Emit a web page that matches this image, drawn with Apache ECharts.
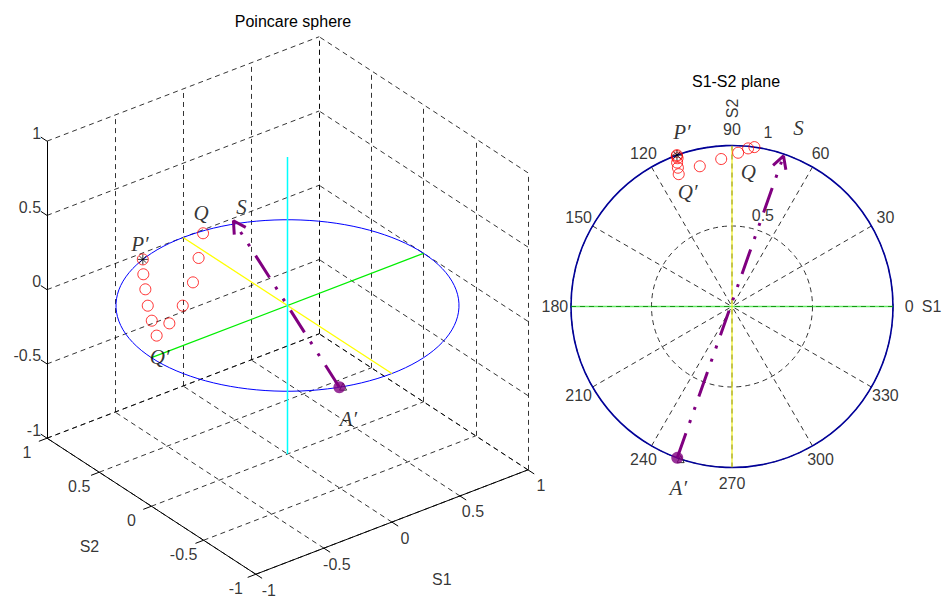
<!DOCTYPE html>
<html>
<head>
<meta charset="utf-8">
<script src="https://cdn.jsdelivr.net/npm/echarts@6/dist/echarts.min.js"></script>
<style>
  html, body { margin: 0; padding: 0; background: #fff; }
  #chart { width: 946px; height: 599px; }
</style>
</head>
<body>
<div id="chart"></div>
<script>
// Stokes trajectory P' -> Q' -> Q (normalised Stokes components)
const trajS1 = [-0.342, -0.343, -0.338, -0.341, -0.336, -0.331, -0.200, -0.067, 0.038, 0.100, 0.139];
const trajS2 = [0.940, 0.934, 0.921, 0.894, 0.862, 0.822, 0.871, 0.916, 0.955, 0.982, 0.990];
const trajS3 = [0.000, -0.097, -0.194, -0.291, -0.379, -0.463, -0.449, -0.397, -0.295, -0.165, -0.016];

// Vector from A' to S
const arrowS1 = [-0.340, 0.320];
const arrowS2 = [-0.940, 0.935];
const arrowS3 = [0.000, 0.030];

// Reference state A (triangle marker)
const refS1 = [-0.319];
const refS2 = [-0.948];
const refS3 = [0.000];

// Axis ticks
const boxTicks = [-1, -0.5, 0, 0.5, 1];
const boxTickLabels = ['-1', '-0.5', '0', '0.5', '1'];
const angleTicks = [0, 30, 60, 90, 120, 150, 180, 210, 240, 270, 300, 330];
const radiusTicks = [0.5, 1];

const D2R = Math.PI / 180;
const VIEW_AZ = -37.5, VIEW_EL = 30;

// orthographic view of a Stokes vector
function project(p) {
  const a = VIEW_AZ * D2R, e = VIEW_EL * D2R;
  const s1 = p[0], s2 = p[1], s3 = p[2];
  return [
    Math.cos(a) * s1 + Math.sin(a) * s2,
    Math.cos(e) * s3 + Math.sin(e) * (-Math.sin(a) * s1 + Math.cos(a) * s2)
  ];
}
function toPolar(s1, s2) {
  return [Math.hypot(s1, s2), (Math.atan2(s2, s1) / D2R + 360) % 360];
}
function chevron(tip, from, len, half) {
  const dx = from[0] - tip[0], dy = from[1] - tip[1];
  const d = Math.hypot(dx, dy), ux = dx / d, uy = dy / d;
  const rot = (g) => [tip[0] + len * (ux * Math.cos(g) - uy * Math.sin(g)),
                      tip[1] + len * (ux * Math.sin(g) + uy * Math.cos(g))];
  return [rot(half), tip, rot(-half)];
}

const traj3 = trajS1.map((v, i) => [v, trajS2[i], trajS3[i]]);
const arrow3 = arrowS1.map((v, i) => [v, arrowS2[i], arrowS3[i]]);
const ref3 = refS1.map((v, i) => [v, refS2[i], refS3[i]]);

// ---- 3D box: dashed grid on the three back planes
const gridSegs = [];
boxTicks.forEach(t => {
  gridSegs.push([[t, -1, -1], [t, 1, -1]]);
  gridSegs.push([[-1, t, -1], [1, t, -1]]);
  gridSegs.push([[t, 1, -1], [t, 1, 1]]);
  gridSegs.push([[-1, 1, t], [1, 1, t]]);
  gridSegs.push([[1, t, -1], [1, t, 1]]);
  gridSegs.push([[1, -1, t], [1, 1, t]]);
});
// solid axes with ticks
const TL = 0.06;
const axisSegs = [
  [[-1, -1, -1], [1, -1, -1]],
  [[-1, -1, -1], [-1, 1, -1]],
  [[-1, 1, -1], [-1, 1, 1]]
];
boxTicks.forEach(t => {
  axisSegs.push([[t, -1, -1], [t, -1 - TL, -1]]);
  axisSegs.push([[-1, t, -1], [-1 - TL, t, -1]]);
  axisSegs.push([[-1, 1, t], [-1, 1 + TL, t]]);
});
const segData = segs => segs.map(s => ({ coords: [project(s[0]), project(s[1])] }));

// equator of the sphere
const equator = [];
for (let k = 0; k <= 120; k++) {
  const t = k * 3 * D2R;
  equator.push(project([Math.cos(t), Math.sin(t), 0]));
}

const tip3 = project(arrow3[1]);
const head3 = chevron(tip3, project(arrow3[0]), 14 / 171.5, 29 * D2R);

const tipP = [arrowS1[1], arrowS2[1]];
const headP = chevron(tipP, [arrowS1[0], arrowS2[0]], 14 / 161, 29 * D2R).map(p => toPolar(p[0], p[1]));

const numFont = { fontFamily: 'Liberation Sans, Arial, sans-serif', fontSize: 16, color: '#000' };
const italicFont = { fontFamily: 'Liberation Serif, Times New Roman, serif', fontStyle: 'italic', fontSize: 21, color: '#000' };

// tick labels of the box
const boxLabels = [];
boxTicks.forEach((t, i) => {
  boxLabels.push({ value: project([-1, 1, t]), label: { formatter: boxTickLabels[i], align: 'right', verticalAlign: 'middle', offset: [-6, -8] } });
  boxLabels.push({ value: project([-1, t, -1]), label: { formatter: boxTickLabels[i], align: 'center', verticalAlign: 'middle', offset: [-20, 14] } });
  boxLabels.push({ value: project([t, -1, -1]), label: { formatter: boxTickLabels[i], align: 'center', verticalAlign: 'middle', offset: [13, 16] } });
});
boxLabels.push({ value: project([-1, 0, -1]), label: { formatter: 'S2', align: 'center', verticalAlign: 'middle', offset: [-62, 40] } });
boxLabels.push({ value: project([0, -1, -1]), label: { formatter: 'S1', align: 'center', verticalAlign: 'middle', offset: [50, 57] } });

// point names
const names3 = [
  { value: project(traj3[0]), label: { formatter: 'P\u2032', offset: [-3, -15] } },
  { value: project(traj3[5]), label: { formatter: 'Q\u2032', offset: [3, 21] } },
  { value: project(traj3[10]), label: { formatter: 'Q', offset: [-2, -20] } },
  { value: project(arrow3[1]), label: { formatter: 'S', offset: [8, -14] } },
  { value: project(arrow3[0]), label: { formatter: 'A\u2032', offset: [9, 32] } }
];
const namesP = [
  { value: toPolar(trajS1[0], trajS2[0]), label: { formatter: 'P\u2032', offset: [5, -23] } },
  { value: toPolar(trajS1[5], trajS2[5]), label: { formatter: 'Q\u2032', offset: [9, 18] } },
  { value: toPolar(trajS1[10], trajS2[10]), label: { formatter: 'Q', offset: [-6, 25] } },
  { value: toPolar(arrowS1[1], arrowS2[1]), label: { formatter: 'S', offset: [15, -28] } },
  { value: toPolar(arrowS1[0], arrowS2[0]), label: { formatter: 'A\u2032', offset: [1, 30] } }
];

const polarLabels = angleTicks.map(a => ({ value: [1.1, a], label: { formatter: String(a), align: 'center', verticalAlign: 'middle' } }));
radiusTicks.forEach(r => polarLabels.push({ value: [r + r * 0.05, 82], label: { formatter: String(r), align: 'left', verticalAlign: 'bottom', offset: [8, 1] } }));
polarLabels.push({ value: [1.23, 90], label: { formatter: 'S2', align: 'center', verticalAlign: 'middle', rotate: 90 } });
polarLabels.push({ value: [1.24, 0], label: { formatter: 'S1', align: 'center', verticalAlign: 'middle' } });

const STAR = 'path://M5,0L5,10M0,5L10,5M1.6,1.6L8.4,8.4M1.6,8.4L8.4,1.6';
const PURPLE = '#800080';
const DASHDOT = [26, 11, 3, 11, 3, 11];
const ringStyle = { color: 'transparent', borderColor: '#ff0000', borderWidth: 1 };

const K = 171.5, CX = 287.5, CY = 305.5, R = 1.65;

const option = {
  animation: false,
  backgroundColor: '#fff',
  title: [
    { text: 'Poincare sphere', left: 288, top: 8, textAlign: 'center', textStyle: { fontFamily: numFont.fontFamily, fontSize: 16, fontWeight: 'normal', color: '#000' } },
    { text: 'S1-S2 plane', left: 731, top: 68, textAlign: 'center', textStyle: { fontFamily: numFont.fontFamily, fontSize: 16, fontWeight: 'normal', color: '#000' } }
  ],
  grid: { left: CX - R * K, top: CY - R * K, width: 2 * R * K, height: 2 * R * K, show: false },
  xAxis: { type: 'value', min: -R, max: R, show: false },
  yAxis: { type: 'value', min: -R, max: R, show: false },
  polar: { center: [732, 306.5], radius: 161 },
  angleAxis: {
    type: 'value', min: 0, max: 360, interval: 30, startAngle: 0, clockwise: false,
    axisLine: { show: true, lineStyle: { color: '#000099', width: 1.6 } },
    axisTick: { show: false }, axisLabel: { show: false },
    splitLine: { show: true, lineStyle: { color: '#000', width: 0.8, type: [5, 4] } }
  },
  radiusAxis: {
    type: 'value', min: 0, max: 1, interval: 0.5,
    axisLine: { show: false }, axisTick: { show: false }, axisLabel: { show: false },
    splitLine: { show: true, lineStyle: { color: '#000', width: 0.8, type: [5, 4] } }
  },
  series: [
    // ----- Poincare sphere
    { type: 'lines', coordinateSystem: 'cartesian2d', silent: true, z: 1,
      lineStyle: { color: '#000', width: 0.8, type: [5, 4], opacity: 1 }, data: segData(gridSegs) },
    { type: 'lines', coordinateSystem: 'cartesian2d', silent: true, z: 1,
      lineStyle: { color: '#000', width: 1, opacity: 1 }, data: segData(axisSegs) },
    { type: 'line', data: equator, showSymbol: false, clip: false, z: 2,
      lineStyle: { color: '#0000ff', width: 1 } },
    { type: 'line', data: [project([-1, 0, 0]), project([1, 0, 0])], showSymbol: false, clip: false, z: 3,
      lineStyle: { color: '#00ee00', width: 1.3 } },
    { type: 'line', data: [project([0, 1, 0]), project([0, -1, 0])], showSymbol: false, clip: false, z: 3,
      lineStyle: { color: '#ffff00', width: 1.3 } },
    { type: 'line', data: [project([0, 0, 1]), project([0, 0, -1])], showSymbol: false, clip: false, z: 3,
      lineStyle: { color: '#00ffff', width: 1.5 } },
    { type: 'scatter', data: traj3.map(project), clip: false, symbol: 'circle', symbolSize: 11, z: 4, itemStyle: ringStyle },
    { type: 'scatter', data: [project(traj3[0])], clip: false, symbol: STAR, symbolSize: 10, z: 5,
      itemStyle: { color: 'none', borderColor: '#000', borderWidth: 1 } },
    { type: 'line', data: arrow3.map(project), showSymbol: false, clip: false, z: 6,
      lineStyle: { color: PURPLE, width: 3, type: DASHDOT, cap: 'butt' } },
    { type: 'line', data: head3, showSymbol: false, clip: false, z: 6,
      lineStyle: { color: PURPLE, width: 3 } },
    { type: 'scatter', data: ref3.map(project), clip: false, symbol: 'triangle', symbolSize: 7, z: 6,
      itemStyle: { color: 'none', borderColor: '#000', borderWidth: 1 } },
    { type: 'scatter', data: [project(arrow3[0])], clip: false, symbol: 'circle', symbolSize: 12, z: 7,
      itemStyle: { color: PURPLE } },
    { type: 'scatter', data: boxLabels, clip: false, symbolSize: 0, z: 8, silent: true,
      label: Object.assign({ show: true, position: 'inside' }, numFont) },
    { type: 'scatter', data: names3, clip: false, symbolSize: 0, z: 8, silent: true,
      label: Object.assign({ show: true, position: 'inside', align: 'center', verticalAlign: 'middle' }, italicFont) },

    // ----- S1-S2 plane
    { type: 'line', coordinateSystem: 'polar', clip: false, data: [toPolar(-1, 0), toPolar(1, 0)], showSymbol: false, z: 3,
      lineStyle: { color: '#00dd00', width: 1.5, opacity: 0.6 } },
    { type: 'line', coordinateSystem: 'polar', clip: false, data: [toPolar(0, 1), toPolar(0, -1)], showSymbol: false, z: 3,
      lineStyle: { color: '#eeee00', width: 1.5, opacity: 0.7 } },
    { type: 'scatter', coordinateSystem: 'polar', clip: false, data: trajS1.map((v, i) => toPolar(v, trajS2[i])),
      symbol: 'circle', symbolSize: 11, z: 4, itemStyle: ringStyle },
    { type: 'scatter', coordinateSystem: 'polar', clip: false, data: [toPolar(trajS1[0], trajS2[0])], symbol: STAR, symbolSize: 10, z: 5,
      itemStyle: { color: 'none', borderColor: '#000', borderWidth: 1 } },
    { type: 'line', coordinateSystem: 'polar', clip: false, data: arrowS1.map((v, i) => toPolar(v, arrowS2[i])), showSymbol: false, z: 6,
      lineStyle: { color: PURPLE, width: 3, type: DASHDOT, cap: 'butt' } },
    { type: 'line', coordinateSystem: 'polar', clip: false, data: headP, showSymbol: false, z: 6,
      lineStyle: { color: PURPLE, width: 3 } },
    { type: 'scatter', coordinateSystem: 'polar', clip: false, data: refS1.map((v, i) => toPolar(v, refS2[i])), symbol: 'triangle', symbolSize: 7, z: 6,
      itemStyle: { color: 'none', borderColor: '#000', borderWidth: 1 } },
    { type: 'scatter', coordinateSystem: 'polar', clip: false, data: [toPolar(arrowS1[0], arrowS2[0])], symbol: 'circle', symbolSize: 12, z: 7,
      itemStyle: { color: PURPLE } },
    { type: 'scatter', coordinateSystem: 'polar', clip: false, data: polarLabels, symbolSize: 0, z: 8, silent: true,
      label: Object.assign({ show: true, position: 'inside' }, numFont) },
    { type: 'scatter', coordinateSystem: 'polar', clip: false, data: namesP, symbolSize: 0, z: 8, silent: true,
      label: Object.assign({ show: true, position: 'inside', align: 'center', verticalAlign: 'middle' }, italicFont) }
  ]
};

const chart = echarts.init(document.getElementById('chart'), null, { renderer: 'svg', width: 946, height: 599 });
chart.setOption(option);
</script>
</body>
</html>
